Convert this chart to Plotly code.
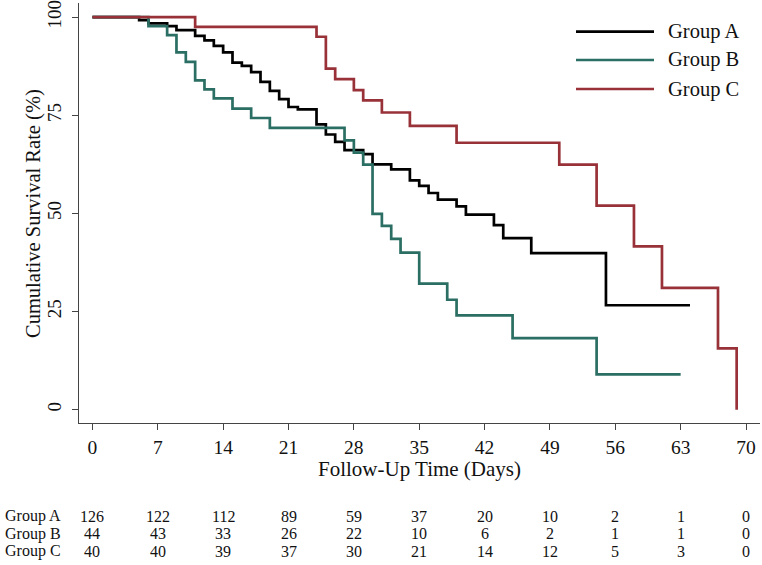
import plotly.graph_objects as go

# ---- data ----
groups = ["Group A", "Group B", "Group C"]
colors = ["#000000", "#2b6e63", "#983238"]

time_a = [0, 5, 6, 8, 9, 11, 12, 13, 14, 15, 16, 17, 18, 19, 20, 21, 22, 24, 25, 26,
          27, 29, 30, 32, 34, 35, 36, 37, 39, 40, 43, 44, 47, 55, 64]
surv_a = [100, 99.2, 98.4, 97.7, 96.7, 95.2, 94.1, 92.7, 91.0, 88.4, 87.6, 86.0, 83.5, 81.2,
          79.1, 77.1, 76.5, 72.7, 70.1, 68.2, 66.1, 65.1, 62.5, 61.2, 58.4, 57.0, 55.2, 53.5,
          51.8, 49.7, 47.0, 43.7, 39.9, 26.6, 26.6]

time_b = [0, 6, 8, 9, 10, 11, 12, 13, 15, 17, 19, 27, 28, 29, 30, 31, 32, 33, 35, 38, 39, 45, 54, 63]
surv_b = [100, 97.7, 95.4, 91.0, 88.6, 83.9, 81.6, 79.3, 76.7, 74.3, 71.8, 68.6, 65.5, 62.4,
          49.9, 46.8, 43.5, 40.0, 32.1, 28.0, 24.0, 18.2, 9.0, 9.0]

time_c = [0, 11, 24, 25, 26, 28, 29, 31, 34, 39, 50, 54, 58, 61, 67, 69]
surv_c = [100, 97.5, 95.0, 86.9, 84.2, 81.4, 78.8, 75.7, 72.3, 68.0, 62.4, 52.0, 41.6, 31.0, 15.6, 0]

x_ticks = [0, 7, 14, 21, 28, 35, 42, 49, 56, 63, 70]
y_ticks = [0, 25, 50, 75, 100]

risk_a = [126, 122, 112, 89, 59, 37, 20, 10, 2, 1, 0]
risk_b = [44, 43, 33, 26, 22, 10, 6, 2, 1, 1, 0]
risk_c = [40, 40, 39, 37, 30, 21, 14, 12, 5, 3, 0]

# ---- layout geometry (pixels) ----
W, H = 762, 565
ML, MR, MT, MB = 79, 2, 3, 142
PW, PH = W - ML - MR, H - MT - MB


def px(xp):
    return (xp - ML) / PW


def py(yp):
    return (H - MB - yp) / PH


FONT = "Liberation Serif, Times New Roman, serif"

fig = go.Figure()
series = [(time_a, surv_a), (time_b, surv_b), (time_c, surv_c)]
for name, col, (t, s) in zip(groups, colors, series):
    fig.add_trace(go.Scatter(x=t, y=s, mode="lines", name=name,
                             line=dict(color=col, width=2.7, shape="hv"),
                             showlegend=False, hoverinfo="x+y+name"))

annotations = []
shapes = []

# custom legend
leg_y = [31.7, 60, 89]
for i, (name, col) in enumerate(zip(groups, colors)):
    shapes.append(dict(type="line", xref="paper", yref="paper",
                       x0=px(576), x1=px(654), y0=py(leg_y[i]), y1=py(leg_y[i]),
                       line=dict(color=col, width=2.7)))
    annotations.append(dict(xref="paper", yref="paper", x=px(666), y=py(leg_y[i]),
                            xanchor="left", yanchor="middle", text=name, showarrow=False,
                            font=dict(family=FONT, size=20.5, color="#111")))

# axis titles
annotations.append(dict(xref="paper", yref="paper", x=px(419), y=0, yshift=-46,
                        xanchor="center", yanchor="middle",
                        text="Follow-Up Time (Days)", showarrow=False,
                        font=dict(family=FONT, size=21, color="#111")))
annotations.append(dict(xref="paper", yref="paper", x=0, xshift=-46, y=py(214),
                        xanchor="center", yanchor="middle", textangle=-90,
                        text="Cumulative Survival Rate (%)", showarrow=False,
                        font=dict(family=FONT, size=20.5, color="#111")))

# number-at-risk table
row_y = [516, 533.5, 551]
for gi, (name, risk) in enumerate(zip(groups, [risk_a, risk_b, risk_c])):
    annotations.append(dict(xref="paper", yref="paper", x=0, xshift=-76, y=py(row_y[gi]),
                            xanchor="left", yanchor="middle", text=name, showarrow=False,
                            font=dict(family=FONT, size=16, color="#111")))
    for xv, n in zip(x_ticks, risk):
        annotations.append(dict(xref="x", yref="paper", x=xv, y=py(row_y[gi]),
                                xanchor="center", yanchor="middle", text=str(n),
                                showarrow=False,
                                font=dict(family=FONT, size=16, color="#111")))

fig.update_layout(
    width=W, height=H,
    margin=dict(l=ML, r=MR, t=MT, b=MB, pad=0, autoexpand=False),
    paper_bgcolor="white", plot_bgcolor="white",
    font=dict(family=FONT, size=19, color="#111"),
    showlegend=False,
    annotations=annotations, shapes=shapes,
    xaxis=dict(range=[-1.44, 71.5], tickmode="array", tickvals=x_ticks,
               ticks="outside", ticklen=6, tickwidth=1, tickcolor="#444",
               showline=True, linecolor="#444", linewidth=1.2,
               showgrid=False, zeroline=False, automargin=False,
               tickfont=dict(family=FONT, size=19.5, color="#111")),
    yaxis=dict(range=[-3.4, 103.6], tickmode="array", tickvals=y_ticks,
               ticks="outside", ticklen=6, tickwidth=1, tickcolor="#444",
               tickangle=-90, automargin=False, ticklabelstandoff=3,
               showline=True, linecolor="#444", linewidth=1.2,
               showgrid=False, zeroline=False,
               tickfont=dict(family=FONT, size=19, color="#111")),
)

fig.write_html("out.html", config={"displayModeBar": False},
               post_script="document.body.style.margin='0';document.body.style.overflow='hidden';")
